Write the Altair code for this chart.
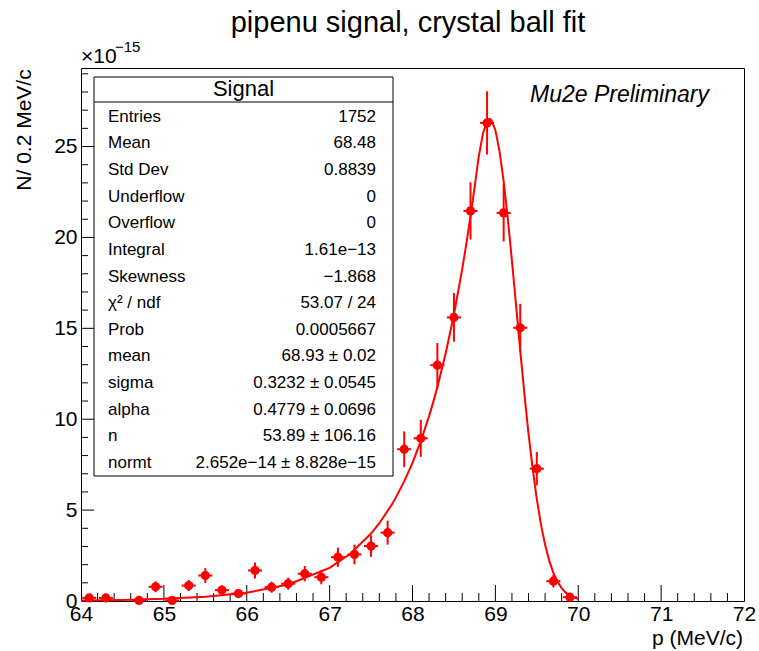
import altair as alt
import pandas as pd

# Histogram: bin centres (MeV/c), contents and errors in units of 1e-15
bin_center = [64.1, 64.3, 64.7, 64.9, 65.1, 65.3, 65.5, 65.7, 65.9, 66.1,
              66.3, 66.5, 66.7, 66.9, 67.1, 67.3, 67.5, 67.7, 67.9, 68.1,
              68.3, 68.5, 68.7, 68.9, 69.1, 69.3, 69.5, 69.7, 69.9]
content = [0.17, 0.17, 0.03, 0.78, 0.03, 0.85, 1.40, 0.60, 0.41, 1.68,
           0.76, 0.95, 1.50, 1.31, 2.41, 2.56, 3.02, 3.76, 8.35, 8.95,
           12.97, 15.60, 21.46, 26.30, 21.35, 15.03, 7.28, 1.09, 0.21]
error = [0.14, 0.14, 0.06, 0.30, 0.06, 0.31, 0.41, 0.26, 0.22, 0.44,
         0.30, 0.33, 0.42, 0.39, 0.53, 0.54, 0.59, 0.66, 0.98, 1.02,
         1.22, 1.34, 1.57, 1.74, 1.57, 1.32, 0.92, 0.35, 0.16]

# Crystal ball fit curve samples
fit_p = [64.0, 64.5, 65.0, 65.5, 66.0, 66.5, 67.0, 67.25, 67.5, 67.6,
         67.75, 67.8, 67.9, 68.0, 68.1, 68.2, 68.25, 68.3, 68.4, 68.5,
         68.6, 68.65, 68.7, 68.75, 68.78, 68.8, 68.85, 68.9, 68.93, 68.95,
         69.0, 69.05, 69.1, 69.15, 69.2, 69.25, 69.3, 69.35, 69.4, 69.45,
         69.5, 69.55, 69.6, 69.65, 69.7, 69.75, 69.8, 69.85, 69.9, 70.0]
fit_n = [0.031, 0.060, 0.117, 0.229, 0.453, 0.905, 1.82, 2.60, 3.71, 4.28,
         5.30, 5.70, 6.58, 7.60, 8.79, 10.17, 10.94, 11.77, 13.62, 15.76,
         18.26, 19.66, 21.16, 22.78, 23.81, 24.46, 25.72, 26.41, 26.52, 26.47,
         25.90, 24.75, 23.09, 21.04, 18.71, 16.25, 13.77, 11.40, 9.21, 7.27,
         5.60, 4.21, 3.09, 2.22, 1.55, 1.06, 0.71, 0.46, 0.29, 0.11]

# Statistics box
stat_names = ["Entries", "Mean", "Std Dev", "Underflow", "Overflow", "Integral",
              "Skewness", "χ² / ndf", "Prob", "mean", "sigma", "alpha", "n", "normt"]
stat_values = ["1752", "68.48", "0.8839", "0", "0", "1.61e\u221213", "\u22121.868",
               "53.07 / 24", "0.0005667", "68.93 ± 0.02", "0.3232 ± 0.0545",
               "0.4779 ± 0.0696", "53.89 ± 106.16", "2.652e\u221214 ± 8.828e\u221215"]

# Axis ticks
x_labels = [64, 65, 66, 67, 68, 69, 70, 71, 72]
y_labels = [0, 5, 10, 15, 20, 25]
x_major = [65, 66, 67, 68, 69, 70, 71]
x_minor = [round(64 + 0.2 * i, 1) for i in range(41) if i % 5 != 0]
y_major = [5, 10, 15, 20, 25]
y_minor = [v for v in range(1, 30) if v % 5 != 0]

W, H = 663, 533
FONT = "Liberation Sans"
RED = "#ff0000"

xs = alt.Scale(domain=[64, 72], nice=False, zero=False)
ys = alt.Scale(domain=[0, 29.32], nice=False)

# Shared axis definitions: ticks are drawn as rules pointing inward
xax = alt.Axis(values=x_labels, format="d", title=None, domain=False, ticks=False,
               tickSize=0, grid=False, labelFont=FONT, labelFontSize=21, labelColor="black",
               labelPadding=2, labelFlush=False, labelOverlap=False)
yax = alt.Axis(values=y_labels, format="d", title=None, domain=False, ticks=False,
               tickSize=0, grid=False, labelFont=FONT, labelFontSize=21, labelColor="black",
               labelPadding=4, labelFlush=False, labelOverlap=False)

hist = pd.DataFrame({"p": bin_center, "n": content, "e": error})
hist["lo"] = hist["n"] - hist["e"]
hist["hi"] = hist["n"] + hist["e"]
hist["pl"] = hist["p"] - 0.085
hist["pr"] = hist["p"] + 0.085
fit = pd.DataFrame({"p": fit_p, "n": fit_n})

def xticks(vals, length):
    return alt.Chart(pd.DataFrame({"v": vals})).mark_rule(color="black", strokeWidth=1).encode(
        x=alt.X("v:Q", scale=xs, axis=xax), y=alt.value(H), y2=alt.value(H - length))

def yticks(vals, length):
    return alt.Chart(pd.DataFrame({"v": vals})).mark_rule(color="black", strokeWidth=1).encode(
        y=alt.Y("v:Q", scale=ys, axis=yax), x=alt.value(0), x2=alt.value(length))

curve = alt.Chart(fit).mark_line(color=RED, strokeWidth=2).encode(
    x=alt.X("p:Q", scale=xs, axis=xax), y=alt.Y("n:Q", scale=ys, axis=yax))

vbars = alt.Chart(hist).mark_rule(color=RED, strokeWidth=2).encode(
    x=alt.X("p:Q", scale=xs, axis=xax), y=alt.Y("lo:Q", scale=ys, axis=yax), y2="hi:Q")
hbars = alt.Chart(hist).mark_rule(color=RED, strokeWidth=2).encode(
    x=alt.X("pl:Q", scale=xs, axis=xax), x2="pr:Q", y=alt.Y("n:Q", scale=ys, axis=yax))

points = alt.Chart(hist).mark_point(filled=True, shape="circle", size=85, color=RED, opacity=1).encode(
    x=alt.X("p:Q", scale=xs, axis=xax), y=alt.Y("n:Q", scale=ys, axis=yax))

# Statistics box frame
box = alt.Chart(pd.DataFrame({"k": [0]})).mark_rect(fill="white", stroke="black", strokeWidth=1).encode(
    x=alt.value(13), x2=alt.value(312), y=alt.value(9), y2=alt.value(408))
sep = alt.Chart(pd.DataFrame({"k": [0]})).mark_rule(color="black", strokeWidth=1).encode(
    x=alt.value(13), x2=alt.value(312), y=alt.value(34))
header = alt.Chart(pd.DataFrame({"t": ["Signal"]})).mark_text(
    font=FONT, fontSize=22, align="center", baseline="middle", color="black").encode(
    text="t:N", x=alt.value(162.5), y=alt.value(21))

stats = pd.DataFrame({"name": stat_names, "val": stat_values, "row": list(range(len(stat_names)))})
stat_base = alt.Chart(stats).transform_calculate(py="48.7 + datum.row * 26.64")
stat_lbl = stat_base.mark_text(font=FONT, fontSize=17, align="left", baseline="middle", color="black").encode(
    text="name:N", x=alt.value(27), y=alt.Y("py:Q", scale=None, axis=None))
stat_val = stat_base.mark_text(font=FONT, fontSize=17, align="right", baseline="middle", color="black").encode(
    text="val:N", x=alt.value(295), y=alt.Y("py:Q", scale=None, axis=None))

def label(txt, x, y, size, align="left", baseline="alphabetic", angle=0, style="normal"):
    return alt.Chart(pd.DataFrame({"t": [txt]})).mark_text(
        font=FONT, fontSize=size, align=align, baseline=baseline, angle=angle,
        fontStyle=style, color="black").encode(text="t:N", x=alt.value(x), y=alt.value(y))

title = label("pipenu signal, crystal ball fit", 327, -36, 29, align="center")
mu2e = label("Mu2e Preliminary", 449, 34, 23, style="italic")
xtitle = label("p (MeV/c)", 662, 577, 21, align="right")
ytitle = label("N/ 0.2 MeV/c", -50, 62, 21, align="center", angle=270)
exp_base = label("\u00d710", 0, -5, 21)
exp_pow = label("\u221215", 34, -16, 15)

chart = alt.layer(
    xticks(x_minor, 8), xticks(x_major, 16), yticks(y_minor, 7), yticks(y_major, 13),
    curve, vbars, hbars, points,
    box, sep, header, stat_lbl, stat_val,
    title, mu2e, xtitle, ytitle, exp_base, exp_pow,
).properties(
    width=W, height=H,
    autosize=alt.AutoSizeParams(type="none"),
    padding={"left": 81, "top": 68, "right": 15, "bottom": 50},
    background="white",
).configure_view(stroke="black", strokeWidth=1)

chart.save("out.html", embed_options={"renderer": "svg", "actions": False})
